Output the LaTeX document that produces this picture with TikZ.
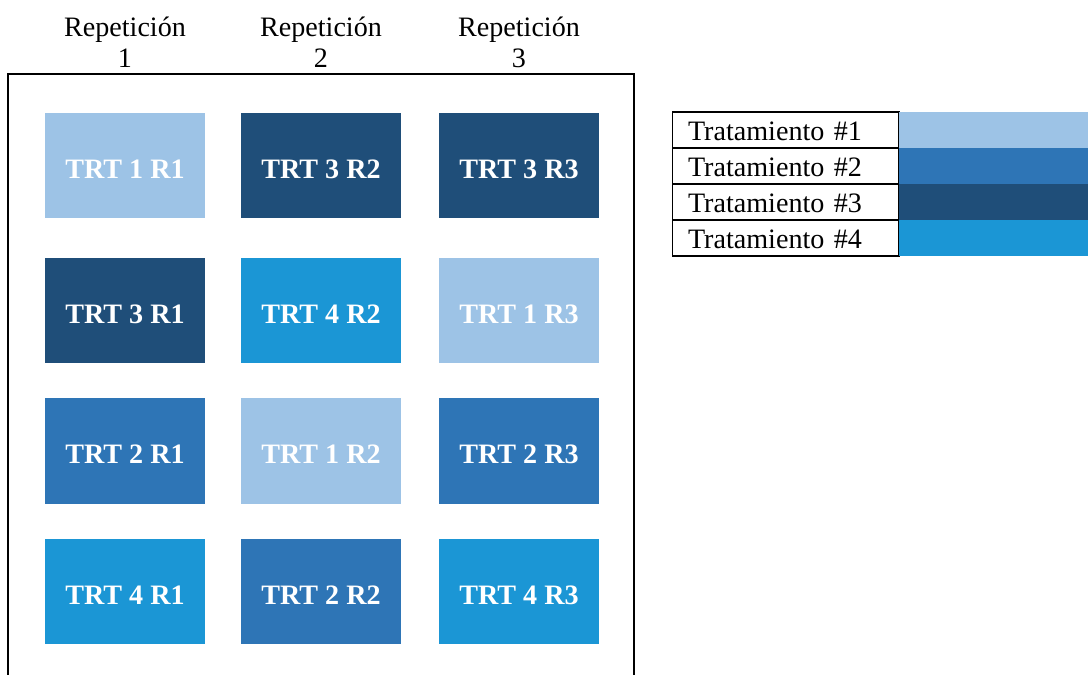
\documentclass[tikz,border=0pt]{standalone}
\usepackage{fontspec}
\setmainfont{Liberation Serif}
\usepackage{tikz}
\usetikzlibrary{positioning}
\definecolor{trtlight}{RGB}{157, 195, 230}
\definecolor{trtmid}  {RGB}{46,  117, 182}
\definecolor{trtdark} {RGB}{31,  78,  121}
\definecolor{trtsky}  {RGB}{27,  150, 213}
\tikzset{
  trtbox/.style={
    rectangle, inner sep=0pt,
    minimum width=3.2cm, minimum height=2.12cm,
    text height=14.6pt, text depth=0pt,
    text=white, font=\fontsize{16}{19}\selectfont\bfseries
  },
  repheader/.style={
    align=center, inner sep=0pt,
    font=\fontsize{16}{17.6}\selectfont
  },
  legtext/.style={
    rectangle, draw=black, line width=0.6pt, outer sep=0pt,
    inner xsep=0.32cm, inner ysep=1pt,
    text width=3.9cm, align=left, minimum height=0.72cm,
    text height=13.5pt, text depth=1pt,
    font=\fontsize{16}{19}\selectfont
  },
  legcolor/.style={
    rectangle, outer sep=0pt, inner sep=0pt,
    minimum width=3.78cm, minimum height=0.72cm
  },
  frameline/.style={
    draw=black, line width=0.7pt
  },
}

\begin{document}
\begin{tikzpicture}[x=0.02cm, y=-0.02cm]
  \useasboundingbox (0,0) rectangle (1088,675);

  % Headers
  \node[repheader] (H1) at (125,42) {Repetición\\1};
  \node[repheader] (H2) at (321,42) {Repetición\\2};
  \node[repheader] (H3) at (519,42) {Repetición\\3};

  % Field frame (open at the bottom)
  \draw[frameline] (8,680) |- (634,74) -- (634,680);

  % Plots, repetition 1
  \node[trtbox, fill=trtlight] (T1R1) at (125,165.5) {TRT 1 R1};
  \node[trtbox, fill=trtdark]  (T3R1) at (125,310.5) {TRT 3 R1};
  \node[trtbox, fill=trtmid]   (T2R1) at (125,451)   {TRT 2 R1};
  \node[trtbox, fill=trtsky]   (T4R1) at (125,591.5) {TRT 4 R1};

  % Plots, repetition 2
  \node[trtbox, fill=trtdark]  (T3R2) at (321,165.5) {TRT 3 R2};
  \node[trtbox, fill=trtsky]   (T4R2) at (321,310.5) {TRT 4 R2};
  \node[trtbox, fill=trtlight] (T1R2) at (321,451)   {TRT 1 R2};
  \node[trtbox, fill=trtmid]   (T2R2) at (321,591.5) {TRT 2 R2};

  % Plots, repetition 3
  \node[trtbox, fill=trtdark]  (T3R3) at (519,165.5) {TRT 3 R3};
  \node[trtbox, fill=trtlight] (T1R3) at (519,310.5) {TRT 1 R3};
  \node[trtbox, fill=trtmid]   (T2R3) at (519,451)   {TRT 2 R3};
  \node[trtbox, fill=trtsky]   (T4R3) at (519,591.5) {TRT 4 R3};

  % Legend
  \node[legtext]             (L1) at (785.5,130) {Tratamiento \#1};
  \node[legtext, below=0pt of L1] (L2) {Tratamiento \#2};
  \node[legtext, below=0pt of L2] (L3) {Tratamiento \#3};
  \node[legtext, below=0pt of L3] (L4) {Tratamiento \#4};
  \node[legcolor, fill=trtlight, right=0pt of L1] (C1) {};
  \node[legcolor, fill=trtmid,   right=0pt of L2] (C2) {};
  \node[legcolor, fill=trtdark,  right=0pt of L3] (C3) {};
  \node[legcolor, fill=trtsky,   right=0pt of L4] (C4) {};
\end{tikzpicture}
\end{document}
